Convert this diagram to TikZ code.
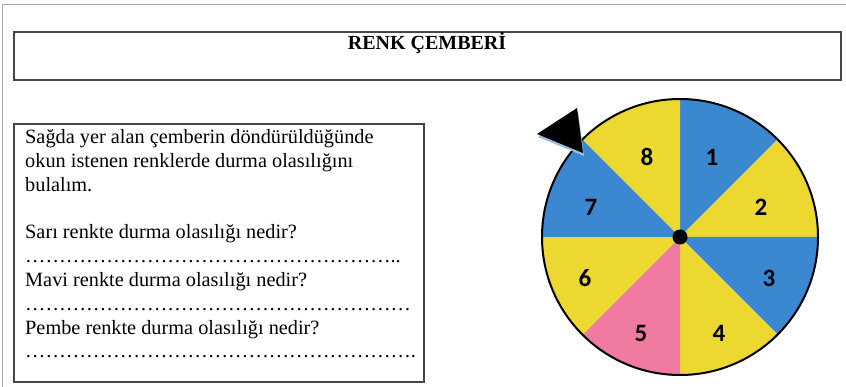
\documentclass[tikz,border=0pt]{standalone}
\usepackage{fontspec}
\setmainfont{Liberation Serif}
\newfontfamily\numfont{Carlito}
\definecolor{wheelblue}{RGB}{59,136,208}
\definecolor{wheelyellow}{RGB}{236,216,48}
\definecolor{wheelpink}{RGB}{240,122,160}
\definecolor{framegray}{RGB}{70,70,70}
\definecolor{shadowblue}{RGB}{150,190,225}

\begin{document}
\begin{tikzpicture}[x=1pt,y=-1pt,
    box/.style={draw=framegray,line width=1.3pt},
    num/.style={font=\numfont\bfseries\fontsize{25}{25}\selectfont,inner sep=0pt}]
  \useasboundingbox (0,0) rectangle (846,387);
  \draw[gray!70,line width=1.6pt] (2.5,395) -- (2.5,4.5) -- (855,4.5);
  \draw[box] (14,32) rectangle (841,80);
  \node[font=\bfseries\fontsize{20}{20}\selectfont,anchor=base] (title) at (427,50) {RENK ÇEMBERİ};
  \draw[box] (14,124) rectangle (424,382);
  \node[anchor=north west,align=left,inner sep=0pt,font=\fontsize{20.3}{23.8}\selectfont] (task) at (25,129.5)
    {Sağda yer alan çemberin döndürüldüğünde\\
     okun istenen renklerde durma olasılığını\\
     bulalım.\\[23.8pt]
     Sarı renkte durma olasılığı nedir?\\
     ………………………………………………..\\
     Mavi renkte durma olasılığı nedir?\\
     …………………………………………………\\
     Pembe renkte durma olasılığı nedir?\\
     ………………………………………………….};
  \begin{scope}[shift={(680,237)},y=1pt]
    \foreach \a/\c in {45/wheelblue,0/wheelyellow,-45/wheelblue,-90/wheelyellow,
                       -135/wheelpink,180/wheelyellow,135/wheelblue,90/wheelyellow}
      \fill[\c] (0,0) -- (\a:138) arc[start angle=\a,end angle=\a+45,radius=138] -- cycle;
    \draw[line width=2pt] (0,0) circle[radius=138];
    \fill (0,0) circle[radius=7.5];
  \end{scope}
  \foreach \n/\px/\py in {1/712/157,2/761/207,3/769/278,4/719/333,5/641/333,6/585/278,7/591/207,8/647/157}
    \node[num] (n\n) at (\px,\py) {\n};
  \fill[shadowblue] (538,137) -- (578,111) -- (584,156) -- cycle;
  \fill (537,134) -- (577,108) -- (583,153) -- cycle;
\end{tikzpicture}
\end{document}
